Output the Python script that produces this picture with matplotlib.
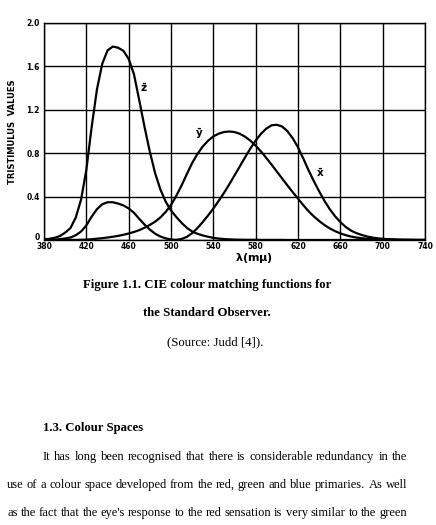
import numpy as np
import matplotlib
matplotlib.use("Agg")
import matplotlib.pyplot as plt
import matplotlib.transforms as mtrans

# wavelength (m mu) and tristimulus values
wl = [380, 385, 390, 395, 400, 405, 410, 415, 420, 425, 430, 435, 440, 445, 450,
      455, 460, 465, 470, 475, 480, 485, 490, 495, 500, 505, 510, 515, 520, 525,
      530, 535, 540, 545, 550, 555, 560, 565, 570, 575, 580, 585, 590, 595, 600,
      605, 610, 615, 620, 625, 630, 635, 640, 645, 650, 655, 660, 665, 670, 675,
      680, 685, 690, 695, 700, 705, 710, 715, 720, 725, 730, 735, 740]
x_bar = [0.001, 0.002, 0.004, 0.008, 0.014, 0.023, 0.044, 0.078, 0.134, 0.215,
         0.284, 0.329, 0.348, 0.348, 0.336, 0.319, 0.291, 0.251, 0.195, 0.142,
         0.096, 0.058, 0.032, 0.015, 0.005, 0.002, 0.009, 0.029, 0.063, 0.110,
         0.166, 0.226, 0.290, 0.360, 0.433, 0.512, 0.595, 0.678, 0.762, 0.843,
         0.916, 0.979, 1.026, 1.057, 1.062, 1.046, 1.003, 0.938, 0.854, 0.751,
         0.642, 0.542, 0.448, 0.361, 0.284, 0.219, 0.165, 0.121, 0.087, 0.064,
         0.047, 0.033, 0.023, 0.016, 0.011, 0.008, 0.006, 0.004, 0.003, 0.002,
         0.001, 0.001, 0.001]
y_bar = [0.000, 0.000, 0.000, 0.000, 0.000, 0.001, 0.001, 0.002, 0.004, 0.007,
         0.012, 0.017, 0.023, 0.030, 0.038, 0.048, 0.060, 0.074, 0.091, 0.113,
         0.139, 0.169, 0.208, 0.259, 0.323, 0.407, 0.503, 0.608, 0.710, 0.793,
         0.862, 0.915, 0.954, 0.980, 0.995, 1.000, 0.995, 0.979, 0.952, 0.915,
         0.870, 0.816, 0.757, 0.695, 0.631, 0.567, 0.503, 0.441, 0.381, 0.321,
         0.265, 0.217, 0.175, 0.138, 0.107, 0.082, 0.061, 0.045, 0.032, 0.023,
         0.017, 0.012, 0.008, 0.006, 0.004, 0.003, 0.002, 0.001, 0.001, 0.001,
         0.001, 0.000, 0.000]
z_bar = [0.006, 0.011, 0.020, 0.036, 0.068, 0.110, 0.207, 0.371, 0.646, 1.039,
         1.386, 1.623, 1.747, 1.783, 1.772, 1.744, 1.669, 1.528, 1.288, 1.042,
         0.813, 0.616, 0.465, 0.353, 0.272, 0.212, 0.158, 0.112, 0.078, 0.057,
         0.042, 0.030, 0.020, 0.013, 0.009, 0.006, 0.004, 0.003, 0.002, 0.002,
         0.002, 0.001, 0.001, 0.001, 0.001, 0.001, 0.000, 0.000, 0.000, 0.000,
         0.000, 0.000, 0.000, 0.000, 0.000, 0.000, 0.000, 0.000, 0.000, 0.000,
         0.000, 0.000, 0.000, 0.000, 0.000, 0.000, 0.000, 0.000, 0.000, 0.000,
         0.000, 0.000, 0.000]

x_ticks = [380, 420, 460, 500, 540, 580, 620, 660, 700, 740]
y_ticks = [0, 0.4, 0.8, 1.2, 1.6, 2.0]
y_ticklabels = ["0", "0.4", "0.8", "1.2", "1.6", "2.0"]

W, H = 436, 525
fig = plt.figure(figsize=(W / 100, H / 100), dpi=100)
fig.patch.set_facecolor("white")

ax = fig.add_axes([44 / W, 1 - 240 / H, (425 - 44) / W, (240 - 23) / H])
ax.plot(wl, x_bar, color="black", lw=1.6, solid_capstyle="round")
ax.plot(wl, y_bar, color="black", lw=1.6, solid_capstyle="round")
ax.plot(wl, z_bar, color="black", lw=1.6, solid_capstyle="round")

ax.set_xlim(380, 740)
ax.set_ylim(0, 2.0)
ax.set_xticks(x_ticks)
ax.set_yticks(y_ticks)
ax.set_yticklabels(y_ticklabels)
ax.grid(True, color="black", lw=1.0)
ax.set_axisbelow(True)
for s in ax.spines.values():
    s.set_linewidth(1.0)
ax.tick_params(axis="x", length=0, pad=1.5, labelsize=5.5)
ax.tick_params(axis="y", length=0, pad=3, labelsize=5.5)
for lab in ax.get_xticklabels() + ax.get_yticklabels():
    lab.set_fontweight("bold")
# the "0" sits a little above the bottom line, clear of "380"
zero = ax.get_yticklabels()[0]
zero.set_transform(zero.get_transform() + mtrans.ScaledTranslation(0, 3 / 100, fig.dpi_scale_trans))

ax.set_ylabel("TRISTIMULUS  VALUES", fontsize=6, fontweight="bold", labelpad=7)
ax.text(578, -0.17, r"$\mathbf{\lambda(m\mu)}$", fontsize=8, ha="center", va="center",
        clip_on=False)

# curve labels
ax.text(474, 1.40, r"$\mathbf{\bar{z}}$", fontsize=7.5, ha="center", va="center")
ax.text(527, 0.98, r"$\mathbf{\bar{y}}$", fontsize=7.5, ha="center", va="center")
ax.text(641, 0.62, r"$\mathbf{\bar{x}}$", fontsize=7.5, ha="center", va="center")

# caption and body text
serif = "Liberation Serif"
fig.text(207 / W, 1 - 285 / H, "Figure 1.1. CIE colour matching functions for",
         family=serif, fontsize=9.2, fontweight="bold", ha="center", va="center")
fig.text(207 / W, 1 - 313 / H, "the Standard Observer.",
         family=serif, fontsize=9.2, fontweight="bold", ha="center", va="center")
fig.text(215 / W, 1 - 342 / H, "(Source: Judd [4]).",
         family=serif, fontsize=9.2, ha="center", va="center")
fig.text(43 / W, 1 - 428 / H, "1.3. Colour Spaces",
         family=serif, fontsize=9.2, fontweight="bold", ha="left", va="center")

renderer = fig.canvas.get_renderer()


def justified(line, x0, x1, y):
    words = line.split()
    texts = [fig.text(0, 1 - y / H, w, family=serif, fontsize=9.0, va="center")
             for w in words]
    widths = [t.get_window_extent(renderer).width for t in texts]
    gap = (x1 - x0 - sum(widths)) / (len(words) - 1)
    xp = x0
    for t, w in zip(texts, widths):
        t.set_x(xp / W)
        xp += w + gap


justified("It has long been recognised that there is considerable redundancy in the", 43, 407, 457)
justified("use of a colour space developed from the red, green and blue primaries.  As well", 7, 407, 485)
justified("as the fact that the eye's response to the red sensation is very similar to the green", 7, 407, 513)

fig.savefig("out.png", dpi=100)
